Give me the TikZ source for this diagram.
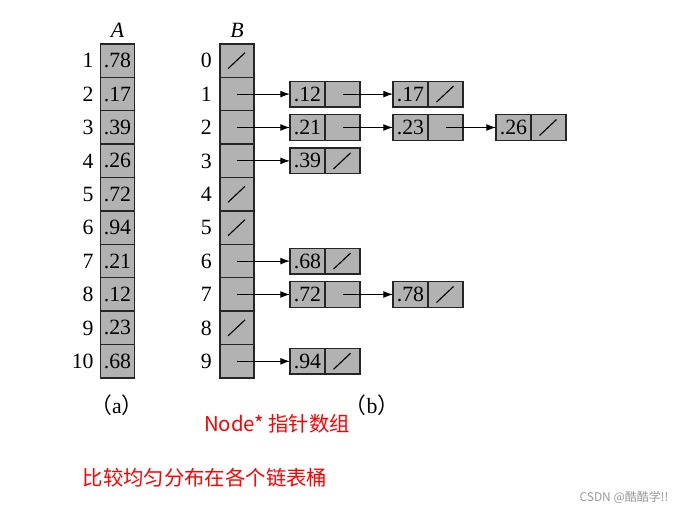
\documentclass[tikz,border=0pt]{standalone}
\usepackage{fontspec}
\setmainfont{Liberation Serif}
\newfontfamily\cjk{Noto Sans CJK SC}
\usetikzlibrary{arrows.meta,positioning}

\tikzset{
	cell/.style={draw=black!85, fill=black!30, line width=1pt, inner sep=0pt, outer sep=0pt,
		minimum width=0.84cm, minimum height=0.835cm},
	keybox/.style={cell, minimum width=0.875cm, minimum height=0.64cm},
	ptrbox/.style={keybox},
	note/.style={red, font=\cjk\fontsize{14.5}{16}\selectfont},
}
% null pointer slash
\newcommand{\nil}[1]{\draw[line width=0.8pt] ([shift={(-9,8)}]#1.center) -- ([shift={(8,-8)}]#1.center);}

\begin{document}
\begin{tikzpicture}[x=0.025cm, y=-0.025cm, every node/.style={font=\fontsize{15.5}{17}\selectfont},
	>={Latex[length=2.4mm, width=1.7mm]}]
	\fill[white] (0,0) rectangle (680,512);
	\useasboundingbox (0,0) rectangle (680,512);
	% array A
	\foreach \v [count=\i] in {78,17,39,26,72,94,21,12,23,68} {
		\node[cell] (a\i) at (117.5, 27.3+33.4*\i) {.\v};
		\node[left=1.5pt of a\i] (la\i) {\i};
	}
	\node[above=1pt of a1] (nameA) {\textit{A}};
	% array B
	\foreach \i in {0,...,9} {
		\node[cell] (b\i) at (237, 60.7+33.4*\i) {};
		\node[left=2.5pt of b\i] (lb\i) {\i};
	}
	\node[above=1pt of b0] (nameB) {\textit{B}};
	% lists
	\foreach \v/\col/\row in {12/0/1, 17/1/1, 21/0/2, 23/1/2, 26/2/2, 39/0/3, 68/0/6, 72/0/7, 78/1/7, 94/0/9} {
		\node[keybox] (k\v) at (307.5+103*\col, 60.7+33.4*\row) {.\v};
		\node[ptrbox, right=0pt of k\v] (p\v) {};
	}
	\begin{scope}[line width=0.7pt]
		\draw[->] (b1.center) -- (k12.west);
		\draw[->] (b2.center) -- (k21.west);
		\draw[->] (b3.center) -- (k39.west);
		\draw[->] (b6.center) -- (k68.west);
		\draw[->] (b7.center) -- (k72.west);
		\draw[->] (b9.center) -- (k94.west);
		\draw[->] (p12.center) -- (k17.west);
		\draw[->] (p21.center) -- (k23.west);
		\draw[->] (p23.center) -- (k26.west);
		\draw[->] (p72.center) -- (k78.west);
	\end{scope}
	\nil{b0} \nil{b4} \nil{b5} \nil{b8}
	\nil{p17} \nil{p26} \nil{p39} \nil{p68} \nil{p78} \nil{p94}
	% captions
	\node (capa) at (117, 405) {{\cjk （}a{\cjk ）}};
	\node (capb) at (372, 405) {{\cjk （}b{\cjk ）}};
	\node[note] (ptrnote) at (277, 424) {Node* 指针数组};
	\node[note] (spread) at (205, 478) {比较均匀分布在各个链表桶};
	\node[black!40, font=\cjk\fontsize{8.5}{10}\selectfont] (mark) at (624, 497) {CSDN @酷酷学!!};
\end{tikzpicture}
\end{document}
